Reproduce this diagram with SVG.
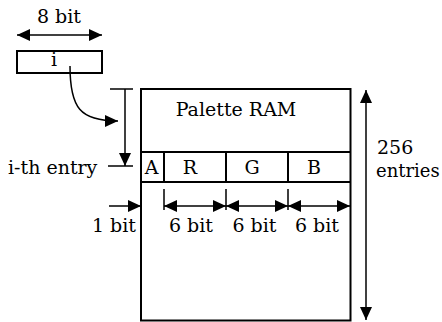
<svg xmlns="http://www.w3.org/2000/svg" width="442" height="322" viewBox="0 0 442 322">
<style>
text{font-family:"DejaVu Serif","Liberation Serif",serif;font-size:19px;fill:#000}
.c{text-anchor:middle}
.s{fill:none;stroke:#000;stroke-width:1.5}
.b{fill:#fff;stroke:#000;stroke-width:2}
.a{marker-end:url(#ah)}
.d{marker-start:url(#ah);marker-end:url(#ah)}
</style>
<defs>
<marker id="ah" viewBox="0 0 13 12" refX="13" refY="6" markerWidth="13" markerHeight="12" markerUnits="userSpaceOnUse" orient="auto-start-reverse">
<path d="M0,0 L13,6 L0,12 z" fill="#000"/>
</marker>
</defs>
<rect width="442" height="322" fill="#fff"/>
<g id="register">
<rect class="b" x="17" y="51" width="85" height="22"/>
<text class="c" x="54" y="66">i</text>
<text class="c" x="59" y="23">8 bit</text>
</g>
<g id="palette-ram">
<rect class="b" x="141" y="89" width="209.5" height="231.5"/>
<text class="c" x="236" y="116">Palette RAM</text>
</g>
<g id="entry-row">
<path class="s" d="M141,152 H350.5 M141,182 H350.5 M164,152 V182 M226,152 V182 M288,152 V182" style="stroke-width:2"/>
<text class="c" x="151.5" y="174">A</text>
<text class="c" x="190" y="174">R</text>
<text class="c" x="252" y="174">G</text>
<text class="c" x="314" y="174">B</text>
</g>
<g id="labels">
<text x="8" y="174">i-th entry</text>
<text x="377" y="154">256</text>
<text x="376" y="177" style="font-size:18px">entries</text>
<text class="c" x="114" y="232">1 bit</text>
<text class="c" x="191" y="232">6 bit</text>
<text class="c" x="254.5" y="232">6 bit</text>
<text class="c" x="317" y="232">6 bit</text>
</g>
<g id="connectors">
<line class="s d" x1="17" y1="35" x2="102" y2="35"/>
<path class="s a" d="M70,66 C70,108 80,121 118,121"/>
<line class="s" x1="110" y1="89" x2="133" y2="89"/>
<line class="s" x1="108" y1="166" x2="133" y2="166"/>
<line class="s a" x1="125" y1="89" x2="125" y2="166"/>
<line class="s d" x1="366" y1="90" x2="366" y2="320"/>
<line class="s a" x1="109" y1="206" x2="141" y2="206"/>
<line class="s d" x1="164" y1="206" x2="226" y2="206"/>
<line class="s d" x1="226" y1="206" x2="288" y2="206"/>
<line class="s d" x1="288" y1="206" x2="350" y2="206"/>
<path class="s" d="M164,189 V210 M226,189 V210 M288,189 V210"/>
</g>
</svg>
